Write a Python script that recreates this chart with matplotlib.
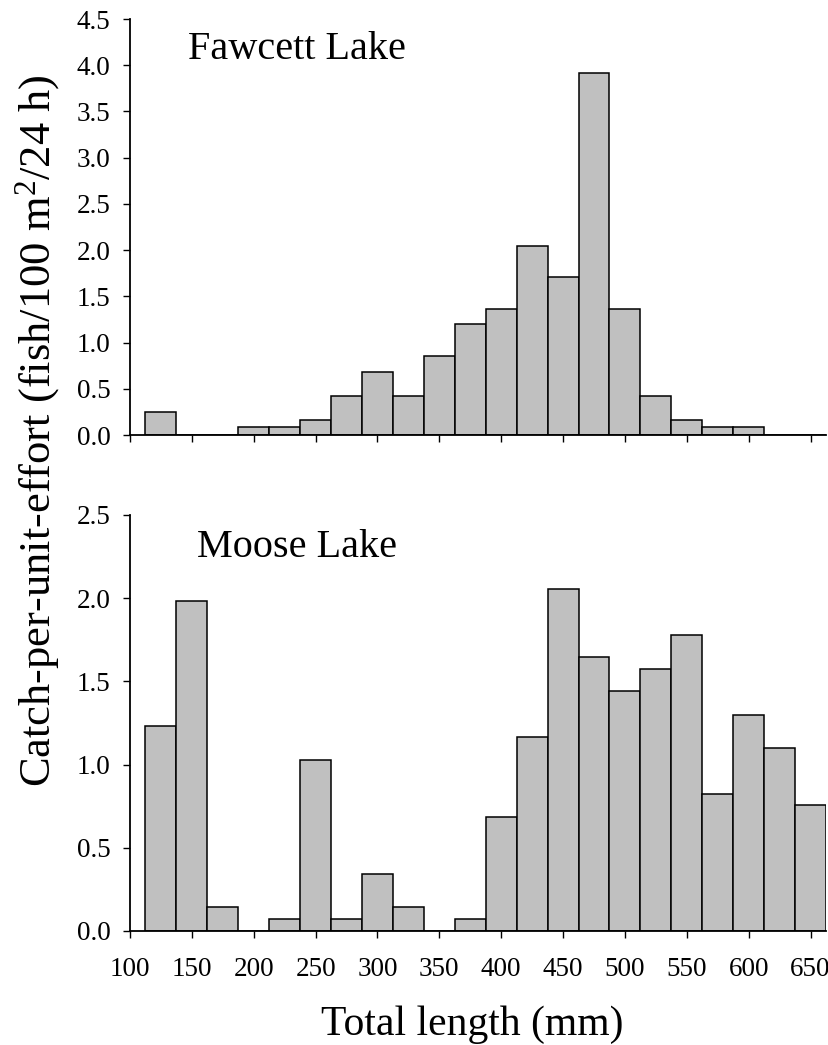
import matplotlib
matplotlib.use("Agg")
import matplotlib.pyplot as plt
import numpy as np

plt.rcParams['font.family'] = ['Liberation Serif', 'DejaVu Serif']
plt.rcParams['mathtext.fontset'] = 'custom'
plt.rcParams['mathtext.rm'] = 'Liberation Serif'
plt.rcParams['mathtext.it'] = 'Liberation Serif:italic'

# Length-class centres (mm), 25-mm bins
length_classes = [125, 150, 175, 200, 225, 250, 275, 300, 325, 350, 375,
                  400, 425, 450, 475, 500, 525, 550, 575, 600, 625, 650]

fawcett_cpue = [0.25, 0.0, 0.0, 0.083, 0.083, 0.166, 0.426, 0.683, 0.426, 0.852, 1.199,
                1.358, 2.04, 1.705, 3.915, 1.358, 0.426, 0.166, 0.083, 0.083, 0.0, 0.0]

moose_cpue = [1.232, 1.985, 0.142, 0.0, 0.070, 1.030, 0.070, 0.343, 0.142, 0.0, 0.070,
              0.687, 1.166, 2.053, 1.645, 1.440, 1.573, 1.781, 0.823, 1.300, 1.098, 0.757]

x_ticks = [100, 150, 200, 250, 300, 350, 400, 450, 500, 550, 600, 650]
top_yticks = [0.0, 0.5, 1.0, 1.5, 2.0, 2.5, 3.0, 3.5, 4.0, 4.5]
bottom_yticks = [0.0, 0.5, 1.0, 1.5, 2.0, 2.5]

W, H = 829, 1045
fig = plt.figure(figsize=(W / 100, H / 100), dpi=100)

left = 130 / W
width = 696 / W
ax1 = fig.add_axes([left, 1 - 435 / H, width, (435 - 19) / H])
ax2 = fig.add_axes([left, 1 - 931 / H, width, (931 - 515) / H])

bar_color = '#c0c0c0'
tick_fs = 19.5

for ax, vals, yt in [(ax1, fawcett_cpue, top_yticks),
                     (ax2, moose_cpue, bottom_yticks)]:
    ax.bar(length_classes, vals, width=25, color=bar_color, edgecolor='black',
           linewidth=1.1, align='center', zorder=2)
    ax.set_xlim(100, 662.5)
    ax.set_ylim(0, yt[-1])
    ax.set_yticks(yt)
    ax.set_yticklabels([f'{v:.1f}' for v in yt], fontsize=tick_fs)
    ax.set_xticks(x_ticks)
    for s in ['top', 'right']:
        ax.spines[s].set_visible(False)
    for s in ['left', 'bottom']:
        ax.spines[s].set_linewidth(1.3)
    ax.tick_params(axis='both', direction='out', length=5, width=1.0)
    ax.tick_params(axis='y', pad=9)
    ax.tick_params(axis='x', pad=14)

ax1.set_xticklabels([])
ax2.set_xticklabels([str(v) for v in x_ticks], fontsize=tick_fs)

ax1.text(0.0833, 0.904, 'Fawcett Lake', transform=ax1.transAxes, fontsize=29,
         ha='left', va='baseline')
ax2.text(0.0963, 0.899, 'Moose Lake', transform=ax2.transAxes, fontsize=29,
         ha='left', va='baseline')

fig.text(38 / W, 1 - 431 / H, r'Catch-per-unit-effort (fish/100 m$^{2}$/24 h)',
         rotation=90, ha='center', va='center', fontsize=32)
fig.text(472 / W, 1 - 1035 / H, 'Total length (mm)', ha='center', va='baseline',
         fontsize=30)

fig.savefig('out.png', dpi=100)
